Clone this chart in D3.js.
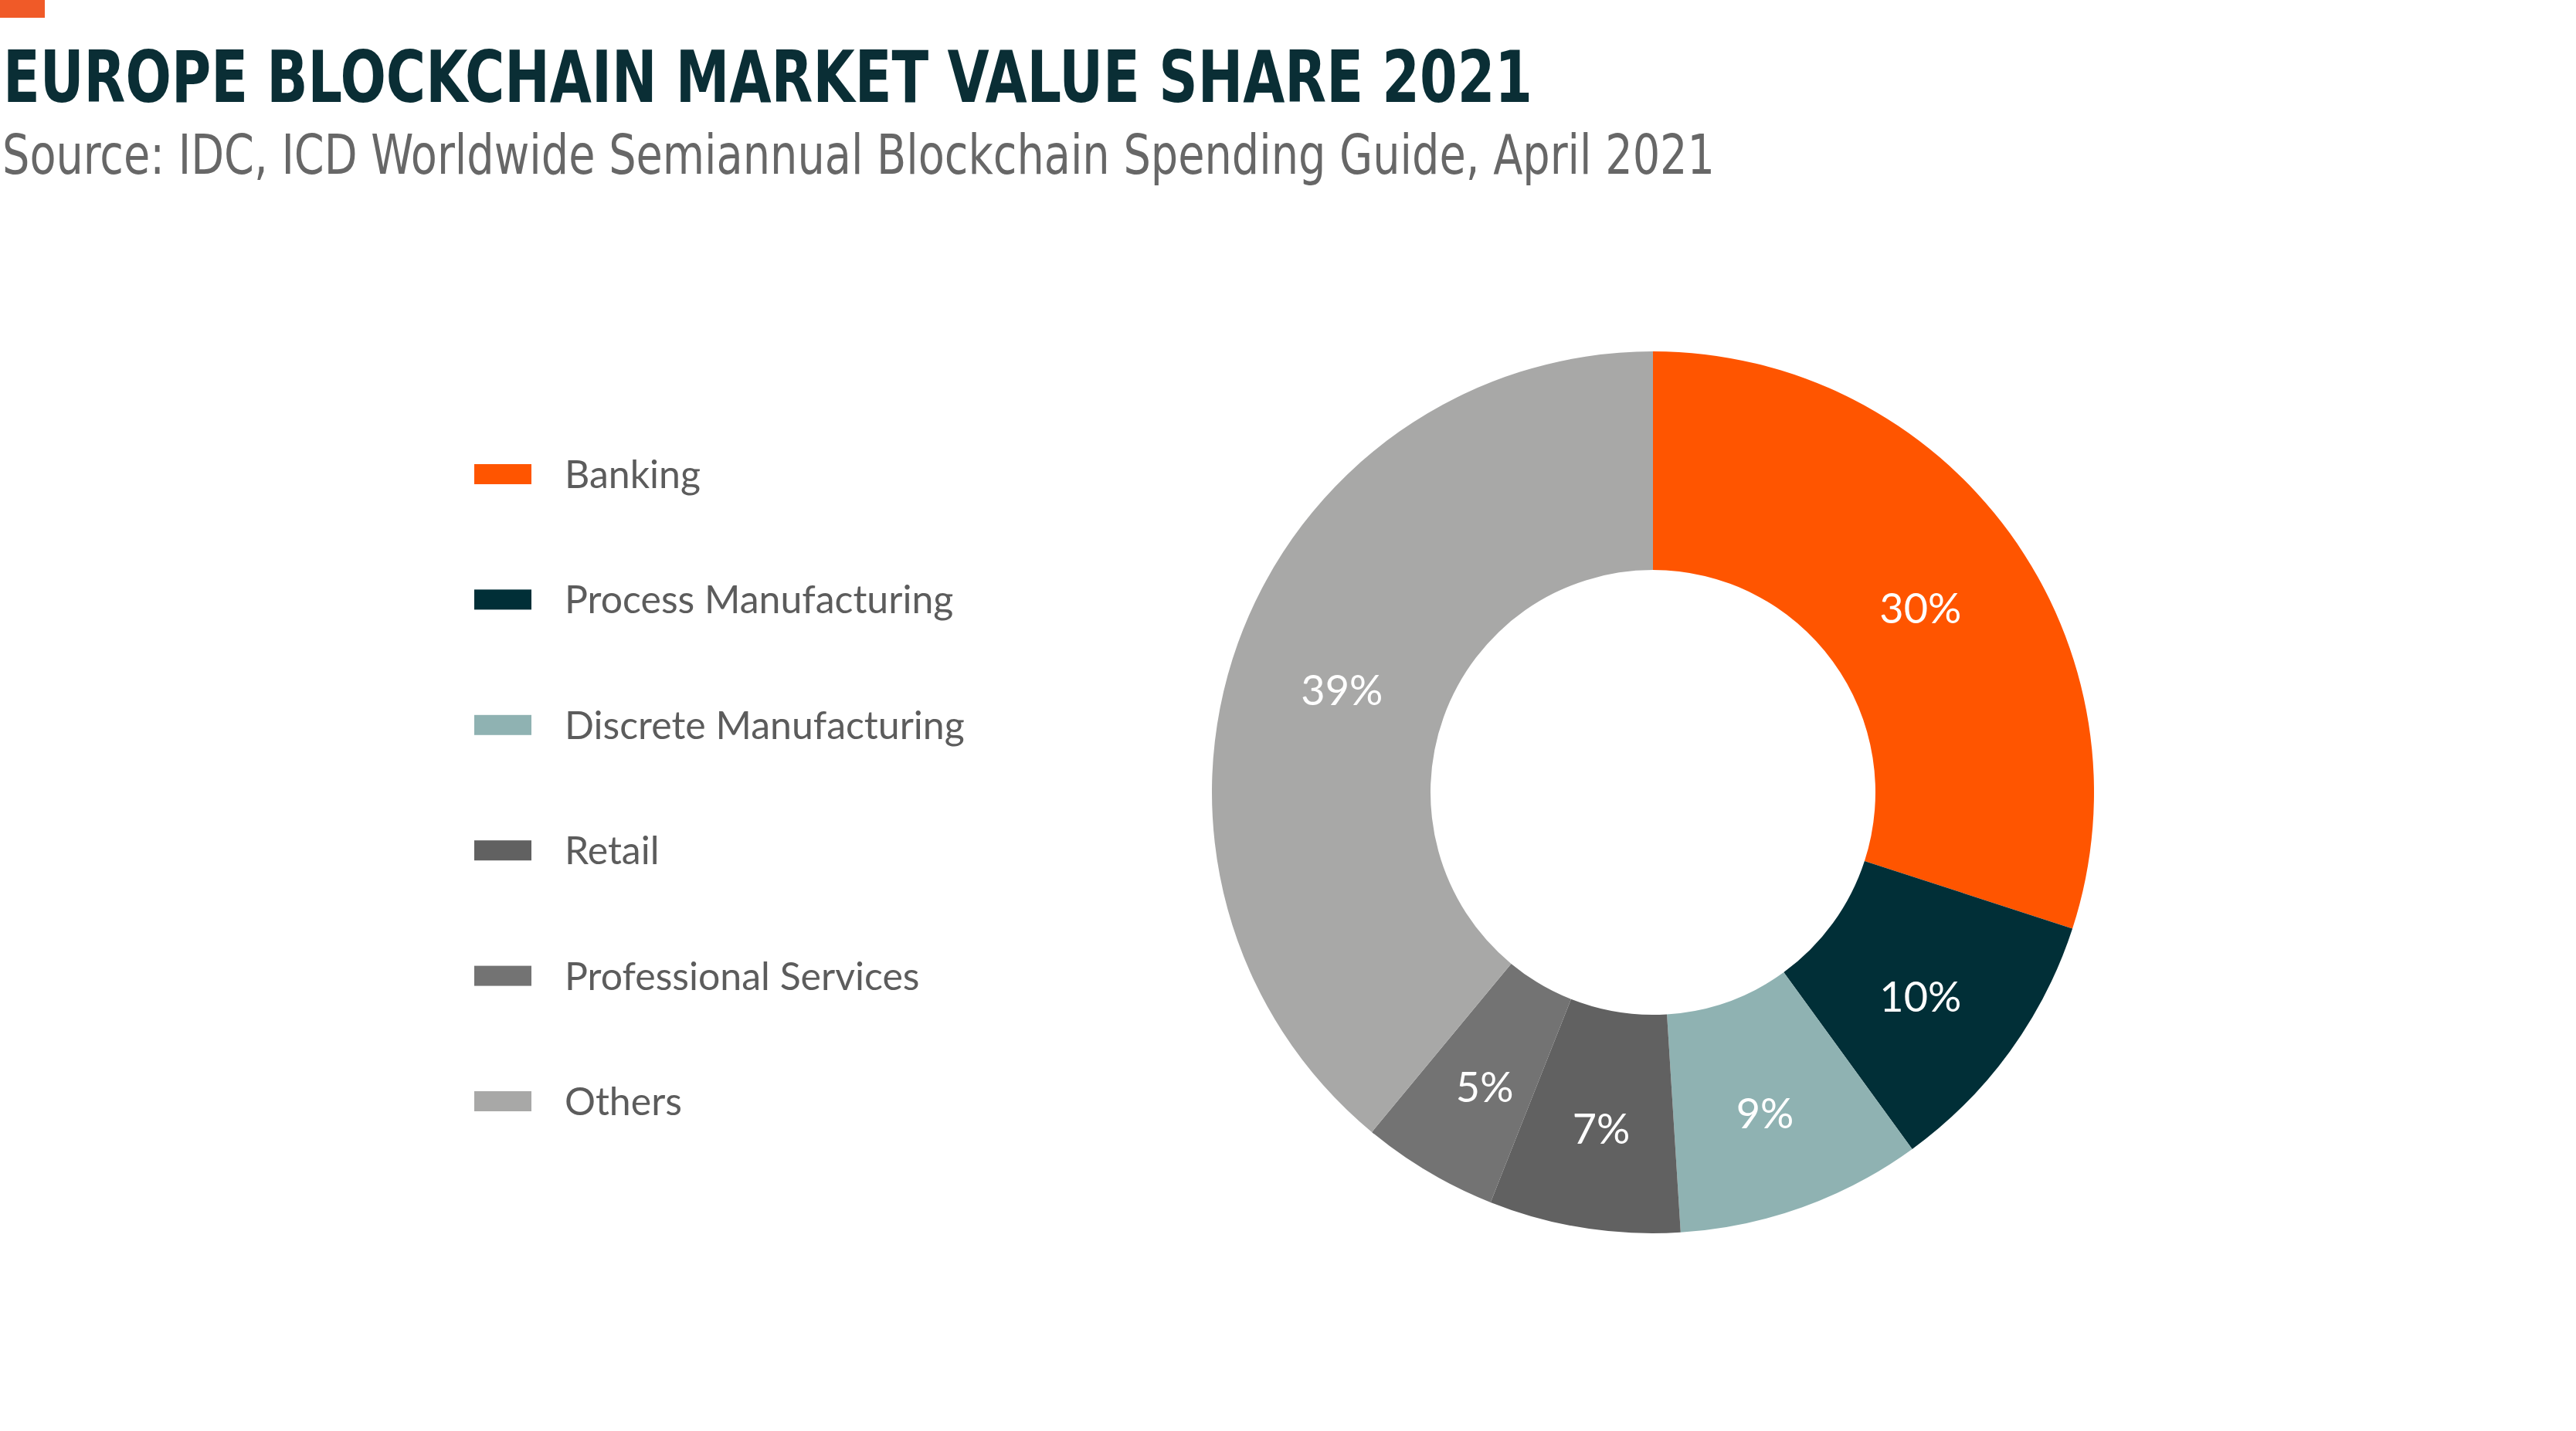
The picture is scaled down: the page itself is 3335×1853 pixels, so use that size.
<!DOCTYPE html>
<html>
<head>
<meta charset="utf-8">
<script src="https://cdn.jsdelivr.net/npm/d3@7"></script>
<style>
  html, body { margin: 0; padding: 0; background: #ffffff; }
  svg { display: block; }
</style>
</head>
<body>
<svg id="chart" width="3335" height="1853"></svg>
<script>
const categories = ["Banking", "Process Manufacturing", "Discrete Manufacturing", "Retail", "Professional Services", "Others"];
const shares = [30, 10, 9, 7, 5, 39];
const colors = ["#ff5500", "#012f37", "#8fb2b2", "#616161", "#737373", "#a8a8a7"];
const titleText = "EUROPE BLOCKCHAIN MARKET VALUE SHARE 2021";
const subtitleText = "Source: IDC, ICD Worldwide Semiannual Blockchain Spending Guide, April 2021";

const W = 3335, H = 1853;
const svg = d3.select("#chart");

// accent bar
svg.append("rect").attr("x", 0).attr("y", 0).attr("width", 58).attr("height", 23).attr("fill", "#f05a28");

// title
svg.append("text")
  .attr("x", 4).attr("y", 132)
  .attr("font-family", "'Liberation Sans Narrow', 'DejaVu Sans Condensed', 'Liberation Sans', sans-serif")
  .attr("font-weight", 700).attr("font-size", 92)
  .attr("fill", "#0a2e35")
  .attr("textLength", 1980).attr("lengthAdjust", "spacingAndGlyphs")
  .text(titleText);

svg.append("text")
  .attr("x", 3).attr("y", 225)
  .attr("font-family", "'Liberation Sans Narrow', 'DejaVu Sans Condensed', 'Liberation Sans', sans-serif")
  .attr("font-weight", 400).attr("font-size", 72)
  .attr("fill", "#676767")
  .attr("textLength", 2217).attr("lengthAdjust", "spacingAndGlyphs")
  .text(subtitleText);

// donut
const cx = 2140, cy = 1026, rOuter = 571, rInner = 288;
const pie = d3.pie().sort(null).value(d => d)(shares);
const arc = d3.arc().innerRadius(rInner).outerRadius(rOuter);
const labelArc = d3.arc().innerRadius(428).outerRadius(428);
const g = svg.append("g").attr("transform", `translate(${cx},${cy})`);
g.selectAll("path").data(pie).join("path")
  .attr("d", arc)
  .attr("fill", (d, i) => colors[i]);
g.selectAll("text").data(pie).join("text")
  .attr("transform", d => { const c = labelArc.centroid(d); return `translate(${c[0]},${c[1] + 13})`; })
  .attr("text-anchor", "middle")
  .attr("dy", "0.36em")
  .attr("font-family", "Lato, 'Open Sans', sans-serif")
  .attr("font-size", 54)
  .attr("fill", "#ffffff")
  .text(d => d.value + "%");

// legend
const ly = d3.scalePoint().domain(categories).range([614, 1426]);
const lg = svg.append("g");
const items = lg.selectAll("g").data(categories).join("g")
  .attr("transform", d => `translate(614,${ly(d)})`);
items.append("rect")
  .attr("x", 0).attr("y", -13).attr("width", 74).attr("height", 26)
  .attr("fill", (d, i) => colors[i]);
items.append("text")
  .attr("x", 117).attr("y", 0).attr("dy", "0.36em")
  .attr("font-family", "Lato, 'Open Sans', sans-serif")
  .attr("font-size", 50)
  .attr("letter-spacing", 0)
  .attr("fill", "#5c5c5c")
  .text(d => d);
</script>
</body>
</html>
